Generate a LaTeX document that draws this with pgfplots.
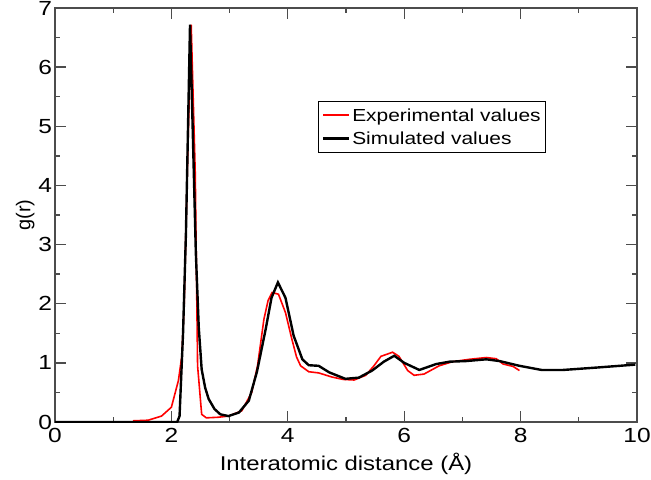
\documentclass[border=0pt]{standalone}
\usepackage{fontspec}
\setmainfont[FakeStretch=1.2]{Liberation Sans}
\newfontfamily\plainfont{Liberation Sans}
\usepackage{pgfplots}
\pgfplotsset{compat=1.18}
\definecolor{framegray}{gray}{0.3}
\definecolor{plotred}{RGB}{255,0,0}
\begin{document}
\begin{tikzpicture}[x=1bp,y=1bp]
\begin{axis}[
  scale only axis,
  width=582bp, height=414bp,
  xmin=0, xmax=10, ymin=0, ymax=7,
  xtick={0,2,...,10}, minor xtick={1,3,5,7,9},
  ytick={0,1,...,7}, minor ytick={0.5,1.5,...,6.5},
  tick align=inside,
  major tick length=11bp, minor tick length=5bp,
  every tick/.style={framegray, line width=1.3bp},
  axis line style={framegray, line width=1.8bp},
  /pgf/number format/assume math mode=true,
  ticklabel style={font=\fontsize{20.5}{24}\selectfont},
  xticklabel style={yshift=-3bp},
  yticklabel style={xshift=0.5bp},
  xlabel={Interatomic distance (Å)},
  ylabel={g(r)},
  xlabel style={font=\fontsize{20}{24}\selectfont, yshift=-3bp},
  ylabel style={font=\plainfont\fontsize{20}{24}\selectfont, yshift=-3bp},
  legend cell align=left,
  legend style={at={(0.4527,0.7754)}, anchor=north west, draw=black, line width=0.8bp,
    font=\fontsize{17.5}{21}\selectfont, inner xsep=3bp, inner ysep=5bp, row sep=5bp},
]
\addplot[plotred, line width=1.6bp,
  legend image code/.code={\draw[plotred, line width=2bp] (0bp,0bp) -- (26bp,0bp);}] coordinates {
(1.34,0.02) (1.6,0.03) (1.83,0.1) (2.0,0.25) (2.12,0.7) (2.18,1.12) (2.22,2.0) (2.28,4.5) (2.34,6.72)
(2.41,4.2) (2.45,0.95) (2.52,0.13) (2.6,0.07) (2.8,0.08) (2.98,0.1) (3.21,0.19) (3.38,0.5) (3.48,0.95)
(3.59,1.74) (3.66,2.05) (3.73,2.19) (3.84,2.16) (3.96,1.85) (4.07,1.4) (4.15,1.1) (4.22,0.95) (4.36,0.85)
(4.53,0.83) (4.76,0.76) (4.95,0.72) (5.14,0.71) (5.34,0.79) (5.48,0.95) (5.6,1.11) (5.8,1.18)
(5.91,1.11) (6.06,0.87) (6.17,0.79) (6.34,0.81) (6.6,0.95) (6.83,1.02) (7.12,1.06) (7.41,1.09)
(7.58,1.07) (7.7,0.98) (7.87,0.94) (7.98,0.87)
};
\addlegendentry{Experimental values}
\addplot[black, line width=2.4bp,
  legend image code/.code={\draw[black, line width=2.4bp] (0bp,0bp) -- (26bp,0bp);}] coordinates {
(0,0) (2.1,0) (2.14,0.1) (2.2,1.5) (2.25,3.2) (2.32,6.72) (2.37,4.8) (2.42,2.86) (2.47,1.6) (2.52,0.89)
(2.58,0.58) (2.64,0.39) (2.74,0.22) (2.84,0.13) (2.98,0.1) (3.16,0.16) (3.33,0.36) (3.47,0.85)
(3.62,1.57) (3.72,2.1) (3.83,2.36) (3.96,2.1) (4.1,1.46) (4.25,1.06) (4.36,0.96) (4.53,0.95)
(4.71,0.84) (4.99,0.73) (5.22,0.75) (5.45,0.87) (5.65,1.02) (5.83,1.12) (6.0,1.0) (6.26,0.88)
(6.55,0.98) (6.78,1.02) (7.06,1.03) (7.41,1.06) (7.64,1.03) (7.98,0.95) (8.36,0.88) (8.73,0.88)
(9.3,0.92) (9.97,0.97)
};
\addlegendentry{Simulated values}
\end{axis}
\pgfresetboundingbox
\path ([shift={(-55bp,-58bp)}]current axis.south west) rectangle ([shift={(14bp,8bp)}]current axis.north east);
\end{tikzpicture}
\end{document}
